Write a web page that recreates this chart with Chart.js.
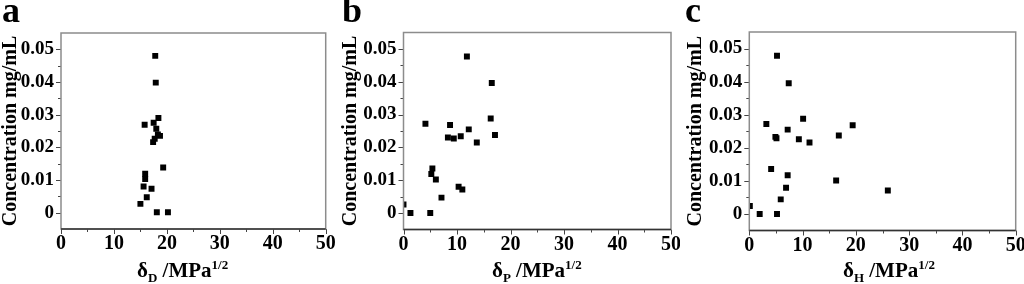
<!DOCTYPE html>
<html>
<head>
<meta charset="utf-8">
<script src="https://cdn.jsdelivr.net/npm/chart.js@4"></script>
<style>
  body { margin: 0; background: #fff; }
  #wrap { position: relative; width: 1024px; height: 284px; overflow: hidden; }
  canvas { position: absolute; top: 0; }
  .lbl { position: absolute; font-family: 'Liberation Serif', 'Times New Roman', serif; font-weight: bold; color: #000; white-space: nowrap; }
  .letter { font-size: 36px; line-height: 36px; top: -8px; }
  .xt { font-size: 21px; line-height: 21px; top: 260px; }
  .sub { font-size: 13px; position: relative; top: 5px; }
  .sup { font-size: 13px; position: relative; top: -8px; }
</style>
</head>
<body>
<div id="wrap">
  <canvas id="ca" width="340" height="284" style="left:0px"></canvas>
  <canvas id="cb" width="340" height="284" style="left:340px"></canvas>
  <canvas id="cc" width="344" height="284" style="left:680px"></canvas>
  <div class="lbl letter" style="left:2px">a</div>
  <div class="lbl letter" style="left:342px">b</div>
  <div class="lbl letter" style="left:685px">c</div>
  <div class="lbl xt" style="left:137px">δ<span class="sub">D</span> /MPa<span class="sup">1/2</span></div>
  <div class="lbl xt" style="left:492px">δ<span class="sub">P</span> /MPa<span class="sup">1/2</span></div>
  <div class="lbl xt" style="left:843px">δ<span class="sub">H</span> /MPa<span class="sup">1/2</span></div>
</div>
<script>
// panel a: dispersion parameter
const deltaD = [17.8, 17.9, 18.4, 17.5, 15.8, 18.0, 18.3, 18.7, 17.7, 17.4, 19.3, 15.9, 15.9, 15.6, 17.1, 16.2, 15.0, 18.1, 20.2];
const concA  = [0.0480, 0.0398, 0.0290, 0.0275, 0.0269, 0.0257, 0.0239, 0.0235, 0.0226, 0.0216, 0.0138, 0.0119, 0.0103, 0.0080, 0.0073, 0.0047, 0.0027, 0.0001, 0.0001];

// panel b: polar parameter
const deltaP = [11.85, 16.5, 16.3, 4.1, 8.7, 12.2, 17.1, 10.7, 8.3, 9.4, 13.7, 5.4, 5.2, 6.05, 10.3, 11.0, 7.1, 0, 1.3, 5.0];
const concB  = [0.0477, 0.0396, 0.0288, 0.0272, 0.0268, 0.0255, 0.0238, 0.0234, 0.0230, 0.0227, 0.0215, 0.0136, 0.0119, 0.0102, 0.0080, 0.0072, 0.0047, 0.0026, 0, 0];

// panel c: hydrogen bonding parameter
const deltaH = [5.2, 7.4, 10.1, 3.2, 19.4, 7.2, 16.8, 4.9, 5.1, 9.3, 11.3, 4.1, 7.2, 16.3, 6.9, 5.9, 0.1, 1.95, 5.2, 26.0];
const concC  = [0.0478, 0.0395, 0.0288, 0.0272, 0.0268, 0.0255, 0.0237, 0.0233, 0.0229, 0.0226, 0.0216, 0.0136, 0.0117, 0.0101, 0.0079, 0.0044, 0.0024, 0, 0, 0.0071];

const xMin = 0, xMax = 50, xStep = 5;
const yMin = -0.005, yMax = 0.055, yStep = 0.005;

const FONT = "'Liberation Serif', 'Times New Roman', serif";

function isMajorX(v) { return Math.round(v) % 10 === 0; }
function isMajorY(v) { const k = Math.round(v * 1000); return k % 10 === 0 && k >= 0 && k <= 50; }

// box frame + outward ticks (major longer than minor)
const frameTicks = {
  id: 'frameTicks',
  afterDraw(chart) {
    const ctx = chart.ctx, a = chart.chartArea;
    const xs = chart.scales.x, ys = chart.scales.y;
    ctx.save();
    ctx.strokeStyle = '#444';
    ctx.lineWidth = 1;
    xs.ticks.forEach(t => {
      const px = Math.round(xs.getPixelForValue(t.value)) + 0.5;
      const len = isMajorX(t.value) ? 5 : 3;
      ctx.beginPath(); ctx.moveTo(px, a.bottom); ctx.lineTo(px, a.bottom + len); ctx.stroke();
    });
    ys.ticks.forEach(t => {
      if (t.value <= yMin + 1e-6 || t.value >= yMax - 1e-6) return;
      const py = Math.round(ys.getPixelForValue(t.value)) + 0.5;
      const len = isMajorY(t.value) ? 5 : 3;
      ctx.beginPath(); ctx.moveTo(a.left, py); ctx.lineTo(a.left - len, py); ctx.stroke();
    });
    ctx.strokeStyle = '#8c8c8c';
    ctx.lineWidth = 1.5;
    ctx.strokeRect(a.left, a.top, a.right - a.left, a.bottom - a.top);
    // bottom axis reads darker in the reference
    ctx.strokeStyle = '#333';
    ctx.beginPath(); ctx.moveTo(a.left, a.bottom); ctx.lineTo(a.right, a.bottom); ctx.stroke();
    ctx.restore();
  }
};

function makePanel(id, xs, ys, box) {
  const pts = xs.map((x, i) => ({ x: x, y: ys[i] }));
  new Chart(document.getElementById(id), {
    type: 'scatter',
    data: {
      datasets: [{
        data: pts,
        pointStyle: 'rect',
        pointRadius: 4.2,
        pointHoverRadius: 4.2,
        backgroundColor: '#000',
        borderWidth: 0
      }]
    },
    options: {
      responsive: false,
      animation: false,
      events: [],
      layout: { padding: { left: 0, top: box.top, right: box.padRight, bottom: 0 } },
      plugins: { legend: { display: false }, tooltip: { enabled: false } },
      scales: {
        x: {
          type: 'linear', min: xMin, max: xMax,
          grid: { display: false, drawTicks: false },
          border: { display: false },
          ticks: {
            stepSize: xStep, autoSkip: false, maxRotation: 0, padding: 3,
            color: '#000', font: { family: FONT, size: 20, weight: 'bold' },
            callback: v => isMajorX(v) ? String(Math.round(v)) : ''
          },
          afterFit: s => { s.height = box.xHeight; s.paddingLeft = 0; s.paddingRight = 0; }
        },
        y: {
          type: 'linear', min: yMin, max: yMax,
          grid: { display: false, drawTicks: false },
          border: { display: false },
          ticks: {
            stepSize: yStep, autoSkip: false, padding: 7,
            color: '#000', font: { family: FONT, size: 19, weight: 'bold' },
            callback: v => {
              if (!isMajorY(v)) return '';
              const k = Math.round(v * 100);
              return k === 0 ? '0' : (k / 100).toFixed(2);
            }
          },
          title: {
            display: true, text: 'Concentration mg/mL', color: '#000',
            font: { family: FONT, size: 20, weight: 'bold', lineHeight: 1.1 },
            padding: { top: box.titlePad, bottom: 0 }
          },
          afterFit: s => { s.width = box.left; s.paddingTop = 0; s.paddingBottom = 0; }
        }
      }
    },
    plugins: [frameTicks]
  });
}

makePanel('ca', deltaD, concA, { left: 61, top: 33, padRight: 14.3, xHeight: 55, titlePad: 0 });
makePanel('cb', deltaP, concB, { left: 63.5, top: 32.5, padRight: 9, xHeight: 54.5, titlePad: 0 });
makePanel('cc', deltaH, concC, { left: 69.3, top: 32, padRight: 8.3, xHeight: 53.5, titlePad: 5 });
</script>
</body>
</html>
